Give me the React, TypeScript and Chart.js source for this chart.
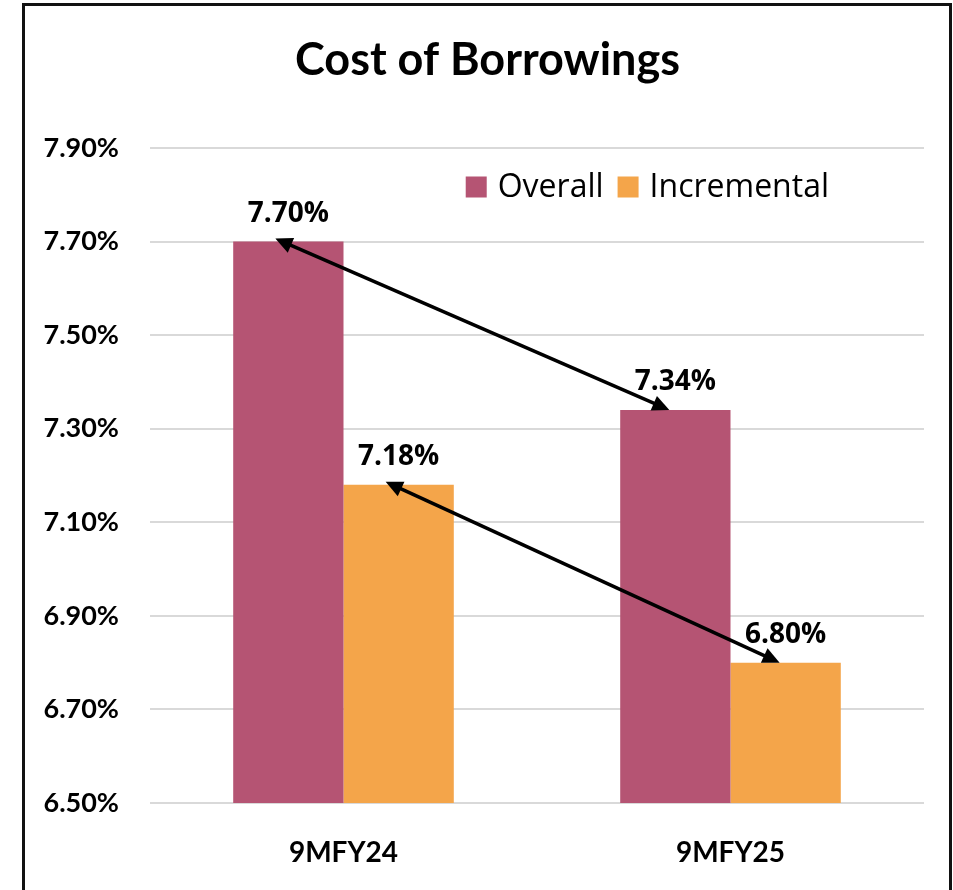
import React, { useEffect, useRef } from "react";
import { Chart, registerables } from "chart.js";

Chart.register(...registerables);

const categories = ["9MFY24", "9MFY25"];
const overallValues = [7.7, 7.34];
const incrementalValues = [7.18, 6.8];
const seriesNames = ["Overall", "Incremental"];
const seriesColors = ["#b55473", "#f4a54a"];
const yMin = 6.5;
const yMax = 7.9;
const yStep = 0.2;
const titleText = "Cost of Borrowings";

const pct = (v: number) => v.toFixed(2) + "%";

function drawArrowHead(ctx: CanvasRenderingContext2D, x: number, y: number, ang: number) {
  const len = 17;
  const half = 8;
  ctx.beginPath();
  ctx.moveTo(x, y);
  ctx.lineTo(x - len * Math.cos(ang) + half * Math.sin(ang), y - len * Math.sin(ang) - half * Math.cos(ang));
  ctx.lineTo(x - len * Math.cos(ang) - half * Math.sin(ang), y - len * Math.sin(ang) + half * Math.cos(ang));
  ctx.closePath();
  ctx.fill();
}

const overlayPlugin = {
  id: "overlay",
  afterDatasetsDraw(chart: any) {
    const ctx: CanvasRenderingContext2D = chart.ctx;
    ctx.save();
    // title centred on the framed box
    const tb = chart.titleBlock;
    if (tb) {
      ctx.font = "bold 45px Lato";
      ctx.fillStyle = "#000";
      ctx.textAlign = "center";
      ctx.textBaseline = "middle";
      ctx.fillText(titleText, (chart.width + 22) / 2, tb.top + 33 + 27);
    }
    // arrows between the two periods for each series
    chart.data.datasets.forEach((_ds: any, di: number) => {
      const meta = chart.getDatasetMeta(di);
      const a = meta.data[0];
      const b = meta.data[1];
      const x1 = a.x - 13;
      const y1 = a.y - 3;
      const x2 = b.x - 6;
      const y2 = b.y;
      const ang = Math.atan2(y2 - y1, x2 - x1);
      const inset = 14;
      ctx.strokeStyle = "#000";
      ctx.fillStyle = "#000";
      ctx.lineWidth = 3.5;
      ctx.beginPath();
      ctx.moveTo(x1 + inset * Math.cos(ang), y1 + inset * Math.sin(ang));
      ctx.lineTo(x2 - inset * Math.cos(ang), y2 - inset * Math.sin(ang));
      ctx.stroke();
      drawArrowHead(ctx, x2, y2, ang);
      drawArrowHead(ctx, x1, y1, ang + Math.PI);
    });
    // value labels
    ctx.font = "bold 28px 'Open Sans'";
    ctx.fillStyle = "#000";
    ctx.textAlign = "center";
    ctx.textBaseline = "alphabetic";
    chart.data.datasets.forEach((ds: any, di: number) => {
      const meta = chart.getDatasetMeta(di);
      meta.data.forEach((el: any, i: number) => {
        ctx.fillText(pct(ds.data[i]), el.x, el.y - 20);
      });
    });
    // legend inside chart area
    const area = chart.chartArea;
    ctx.font = "32px 'Open Sans'";
    ctx.textAlign = "left";
    ctx.textBaseline = "middle";
    const box = 21;
    const gapText = 11;
    const gapItem = 14;
    let total = 0;
    chart.data.datasets.forEach((ds: any, di: number) => {
      total += box + gapText + ctx.measureText(ds.label).width;
      if (di < chart.data.datasets.length - 1) total += gapItem;
    });
    let x = area.right - 95 - total;
    const cy = area.top + 39;
    chart.data.datasets.forEach((ds: any) => {
      ctx.fillStyle = ds.backgroundColor;
      ctx.fillRect(x, cy - box / 2, box, box);
      x += box + gapText;
      ctx.fillStyle = "#000";
      ctx.fillText(ds.label, x, cy + 1);
      x += ctx.measureText(ds.label).width + gapItem;
    });
    ctx.restore();
  },
};

export default function App() {
  const canvasRef = useRef<HTMLCanvasElement | null>(null);

  useEffect(() => {
    if (!canvasRef.current) return;
    const chart = new Chart(canvasRef.current, {
      type: "bar",
      data: {
        labels: categories,
        datasets: [
          { label: seriesNames[0], data: overallValues, backgroundColor: seriesColors[0], borderWidth: 0 },
          { label: seriesNames[1], data: incrementalValues, backgroundColor: seriesColors[1], borderWidth: 0 },
        ],
      },
      options: {
        animation: false,
        responsive: false,
        maintainAspectRatio: false,
        devicePixelRatio: 1,
        layout: { padding: { left: 0, right: 29, top: 0, bottom: 0 } },
        datasets: { bar: { categoryPercentage: 0.57, barPercentage: 1.0 } },
        plugins: {
          legend: { display: false },
          tooltip: { enabled: false },
          title: {
            display: true,
            text: titleText,
            color: "rgba(0,0,0,0)",
            font: { family: "Lato", size: 45, weight: "bold", lineHeight: 1.2 },
            padding: { top: 33, bottom: 61 },
          },
        },
        scales: {
          x: {
            grid: { display: false },
            border: { display: false },
            ticks: {
              color: "#000",
              font: { family: "Lato", size: 28, weight: "bold" },
              padding: 25,
            },
            afterFit: (s: any) => {
              s.height = 87;
            },
          },
          y: {
            min: yMin,
            max: yMax,
            grid: { color: "#d9d9d9", lineWidth: 2, drawTicks: false },
            border: { display: false },
            ticks: {
              stepSize: yStep,
              color: "#000",
              font: { family: "Lato", size: 27, weight: "bold" },
              padding: 31,
              callback: (v: any) => pct(Number(v)),
            },
            afterFit: (s: any) => {
              s.width = 150;
            },
          },
        },
      },
      plugins: [overlayPlugin],
    });
    const fontsToLoad = ["bold 45px Lato", "bold 28px Lato", "bold 28px 'Open Sans'", "32px 'Open Sans'"];
    Promise.all(fontsToLoad.map((f) => (document as any).fonts.load(f)))
      .then(() => chart.update())
      .catch(() => {});
    return () => chart.destroy();
  }, []);

  return (
    <div style={{ position: "absolute", left: 0, top: 0, width: 953, height: 890, overflow: "hidden", background: "#fff" }}>
      <canvas ref={canvasRef} width={953} height={890} style={{ position: "absolute", left: 0, top: 0, width: 953, height: 890 }} />
      <div
        style={{
          position: "absolute",
          left: 22,
          top: 3,
          width: 924,
          height: 910,
          border: "3px solid #111",
          pointerEvents: "none",
        }}
      />
    </div>
  );
}
